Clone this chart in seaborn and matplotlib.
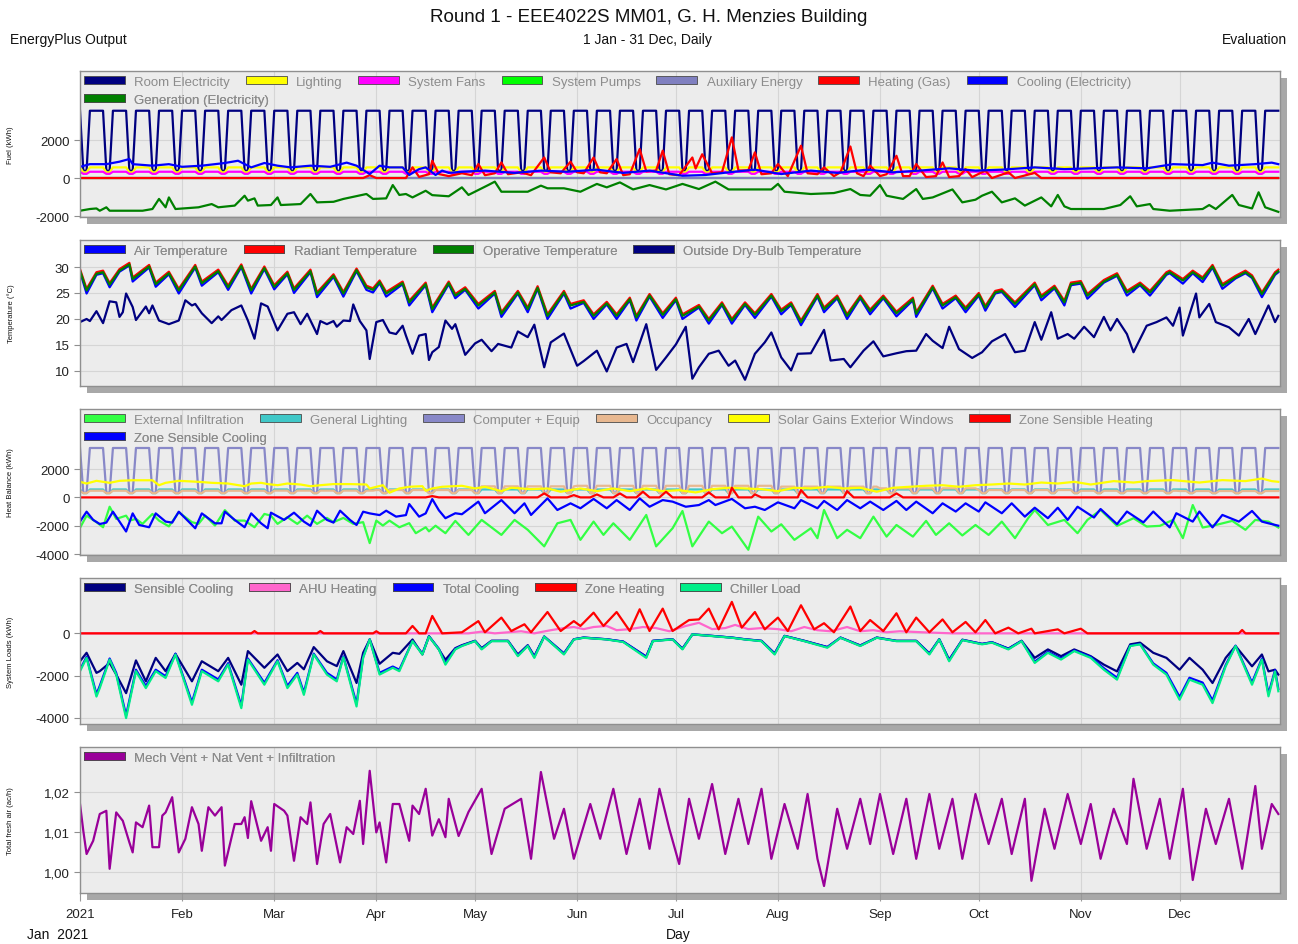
import matplotlib
matplotlib.use("Agg")
import matplotlib.dates as mdates
import matplotlib.patches as mpatches
import matplotlib.pyplot as plt
import matplotlib.ticker as mticker
import pandas as pd
import seaborn as sns

plt.rcParams["font.family"] = ["Liberation Sans", "DejaVu Sans"]
plt.rcParams["axes.unicode_minus"] = False

# ---------------------------------------------------------------- data
# schedule driven series: values per weekday, Mon..Sun
room_elec_week = [3540, 3540, 3540, 3540, 3540, 385, 385]
lighting_week = [560, 560, 560, 560, 560, 300, 300]
fans_week = [330, 330, 330, 330, 330, 220, 220]
pumps_week = [0, 0, 0, 0, 0, 0, 0]
aux_week = [0, 0, 0, 0, 0, 0, 0]
equip_week = [3490, 3490, 3490, 3490, 3490, 330, 330]
gen_light_week = [560, 560, 560, 560, 560, 300, 300]
occ_weekday_by_month = [470, 470, 480, 520, 780, 820, 820, 760, 640, 520, 470, 450]
occ_weekend = 300

# other series: values at the listed day of year (0 = 1 Jan)
gen_day = [0, 3, 5, 6, 8, 9, 14, 19, 22, 24, 26, 27, 29, 36, 40, 42, 47, 50, 51, 53,
           54, 58, 60, 61, 67, 70, 72, 77, 80, 87, 89, 93, 95, 97, 99, 101, 105, 107, 112, 116,
           118, 124, 126, 128, 136, 140, 142, 147, 152, 157, 160, 164, 168, 173, 178, 183, 188, 193, 197, 210,
           212, 214, 222, 229, 234, 237, 240, 243, 245, 250, 254, 256, 259, 265, 268, 272, 274, 277, 280, 284,
           287, 292, 295, 297, 299, 301, 311, 316, 319, 321, 325, 326, 331, 341, 343, 345, 350, 352, 356, 358,
           360, 364]
generation = [-1720, -1630, -1600, -1720, -1540, -1720, -1720, -1720, -1630, -1100, -1540, -1020, -1630, -1540, -1370, -1540, -1450, -930, -1190, -1070,
              -1450, -1420, -1020, -1420, -1370, -840, -1280, -1250, -1100, -840, -1100, -1070, -370, -890, -840, -1020, -670, -900, -960, -490,
              -890, -370, -190, -720, -720, -400, -540, -540, -720, -310, -490, -230, -600, -370, -600, -310, -580, -190, -600, -600,
              -310, -720, -840, -790, -580, -890, -930, -370, -930, -1100, -580, -1100, -1020, -600, -1280, -1140, -930, -720, -1280, -1070,
              -1450, -1020, -1490, -890, -1490, -1630, -1630, -1420, -960, -1490, -1370, -1630, -1720, -1630, -1420, -1630, -890, -1420, -1600, -750,
              -1540, -1780]

cool_day = [0, 3, 8, 12, 15, 16, 22, 27, 31, 37, 44, 48, 52, 56, 60, 64, 70, 76, 81, 84,
            88, 91, 94, 98, 100, 103, 105, 108, 110, 112, 116, 123, 132, 140, 148, 157, 165, 173, 183, 190,
            197, 205, 213, 222, 230, 239, 247, 255, 264, 272, 280, 290, 299, 307, 315, 324, 332, 341, 344, 349,
            357, 362, 364]
cooling_elec = [590, 730, 730, 860, 1000, 730, 650, 730, 590, 650, 790, 910, 560, 790, 650, 560, 650, 590, 810, 650,
                210, 650, 560, 560, 160, 470, 560, 160, 390, 270, 330, 390, 270, 390, 330, 440, 270, 390, 120, 160,
                300, 440, 210, 390, 270, 440, 300, 390, 510, 390, 440, 560, 470, 510, 560, 510, 730, 680, 810, 650,
                730, 810, 730]

heat_day = [0, 86, 88, 90, 99, 101, 103, 106, 107, 109, 112, 116, 119, 121, 123, 126, 128, 130, 134, 137,
            141, 143, 146, 149, 151, 153, 156, 158, 160, 163, 165, 167, 170, 172, 175, 177, 179, 182, 186, 187,
            189, 192, 195, 198, 200, 203, 205, 207, 210, 212, 215, 219, 221, 224, 226, 229, 231, 234, 236, 238,
            240, 243, 245, 248, 250, 252, 254, 257, 260, 262, 264, 267, 269, 271, 275, 277, 282, 284, 290, 292,
            364]
heating_gas = [0, 0, 150, 0, 0, 560, 60, 200, 910, 210, 100, 250, 150, 735, 150, 250, 820, 200, 300, 150,
               1080, 300, 250, 860, 300, 250, 1080, 300, 250, 1000, 150, 200, 1525, 350, 400, 1440, 200, 150, 1080, 500,
               1250, 250, 300, 2140, 400, 400, 1350, 200, 250, 735, 100, 1700, 250, 200, 560, 100, 300, 1660, 250, 100,
               650, 100, 200, 1170, 100, 100, 735, 50, 100, 820, 50, 100, 470, 50, 390, 0, 300, 0, 270, 0,
               0]

op_day = [0, 2, 5, 7, 9, 12, 15, 16, 21, 23, 27, 30, 35, 37, 42, 45, 49, 52, 56, 59,
          63, 65, 70, 72, 77, 80, 84, 87, 89, 91, 93, 98, 100, 105, 107, 112, 114, 117, 121, 126,
          128, 133, 136, 139, 142, 147, 149, 153, 156, 160, 163, 167, 169, 173, 177, 181, 183, 188, 191, 195,
          198, 202, 205, 210, 213, 216, 219, 224, 226, 230, 233, 237, 240, 244, 248, 253, 254, 259, 262, 266,
          269, 273, 275, 278, 280, 284, 290, 292, 296, 299, 301, 304, 306, 311, 315, 318, 322, 325, 330, 331,
          335, 338, 341, 344, 347, 351, 354, 356, 359, 363, 364]
operative_temp = [29.3, 25.5, 28.7, 29.0, 26.6, 29.3, 30.5, 27.7, 30.1, 26.7, 28.8, 25.5, 30.1, 26.9, 29.2, 26.1, 30.2, 25.5, 29.8, 26.2,
                  28.8, 25.6, 29.2, 24.8, 28.3, 24.9, 29.4, 26.1, 25.6, 27.1, 24.9, 26.9, 23.2, 26.7, 21.9, 26.9, 24.5, 25.8, 22.6, 25.1,
                  21.0, 25.1, 21.9, 26.0, 20.6, 25.1, 22.6, 23.3, 20.6, 23.0, 20.6, 23.8, 20.3, 24.5, 20.8, 23.8, 20.6, 22.4, 19.7, 22.9,
                  19.7, 22.9, 20.8, 24.5, 21.5, 22.9, 19.4, 24.5, 21.9, 24.2, 20.6, 24.2, 21.5, 24.2, 21.1, 23.8, 21.0, 26.1, 22.6, 24.2,
                  21.9, 24.7, 22.2, 25.1, 25.4, 22.9, 26.7, 24.2, 26.1, 23.2, 26.7, 27.0, 24.5, 27.2, 28.5, 25.1, 26.7, 25.1, 28.7, 29.0,
                  27.4, 29.0, 27.7, 30.1, 26.4, 28.0, 29.0, 28.1, 24.8, 28.7, 29.2]
air_temp = [29.1, 24.9, 28.5, 28.8, 26.1, 29.1, 30.3, 27.2, 29.9, 26.2, 28.6, 24.9, 29.9, 26.4, 29.0, 25.6, 30.0, 24.9, 29.6, 25.7,
            28.6, 25.0, 29.0, 24.2, 28.1, 24.3, 29.2, 25.6, 25.1, 26.9, 24.3, 26.7, 22.6, 26.5, 21.3, 26.7, 24.0, 25.6, 22.0, 24.9,
            20.4, 24.9, 21.3, 25.8, 20.0, 24.9, 22.0, 23.1, 20.0, 22.8, 20.0, 23.6, 19.7, 24.3, 20.2, 23.6, 20.0, 22.2, 19.1, 22.7,
            19.1, 22.7, 20.2, 24.3, 20.9, 22.7, 18.8, 24.3, 21.3, 24.0, 20.0, 24.0, 20.9, 24.0, 20.5, 23.6, 20.4, 25.9, 22.0, 24.0,
            21.3, 24.5, 21.6, 24.9, 25.2, 22.3, 26.5, 23.6, 25.9, 22.6, 26.5, 26.8, 23.9, 27.0, 28.3, 24.5, 26.5, 24.5, 28.5, 28.8,
            26.8, 28.8, 27.1, 29.9, 25.8, 27.8, 28.8, 27.9, 24.2, 28.5, 29.0]
radiant_temp = [29.6, 25.8, 29.0, 29.3, 26.9, 29.6, 30.8, 28.0, 30.4, 27.0, 29.1, 25.8, 30.4, 27.2, 29.5, 26.4, 30.5, 25.8, 30.1, 26.5,
                29.1, 25.9, 29.5, 25.1, 28.6, 25.2, 29.7, 26.4, 25.9, 27.4, 25.2, 27.2, 23.5, 27.0, 22.2, 27.2, 24.8, 26.1, 22.9, 25.4,
                21.3, 25.4, 22.2, 26.3, 20.9, 25.4, 22.9, 23.6, 20.9, 23.3, 20.9, 24.1, 20.6, 24.8, 21.1, 24.1, 20.9, 22.7, 20.0, 23.2,
                20.0, 23.2, 21.1, 24.8, 21.8, 23.2, 19.7, 24.8, 22.2, 24.5, 20.9, 24.5, 21.8, 24.5, 21.4, 24.1, 21.3, 26.4, 22.9, 24.5,
                22.2, 25.0, 22.5, 25.4, 25.7, 23.2, 27.0, 24.5, 26.4, 23.5, 27.0, 27.3, 24.8, 27.5, 28.8, 25.4, 27.0, 25.4, 29.0, 29.3,
                27.7, 29.3, 28.0, 30.4, 26.7, 28.3, 29.3, 28.4, 25.1, 29.0, 29.5]

out_day = [0, 2, 3, 5, 7, 9, 11, 12, 13, 14, 16, 17, 20, 21, 22, 24, 27, 30, 32, 34,
           35, 37, 40, 42, 43, 46, 49, 51, 53, 55, 57, 60, 63, 65, 67, 69, 72, 73, 75, 77,
           78, 80, 82, 83, 85, 87, 88, 90, 92, 94, 96, 98, 99, 101, 103, 105, 106, 107, 109, 111,
           113, 114, 117, 120, 122, 125, 127, 131, 133, 136, 138, 141, 143, 147, 151, 153, 157, 160, 163, 166,
           168, 172, 175, 178, 181, 184, 186, 188, 191, 194, 197, 199, 202, 205, 208, 210, 213, 216, 218, 222,
           226, 228, 232, 234, 238, 241, 244, 248, 251, 254, 257, 259, 262, 264, 267, 271, 274, 277, 281, 284,
           287, 290, 292, 295, 297, 300, 302, 305, 308, 311, 313, 315, 318, 320, 324, 327, 330, 332, 334, 335,
           339, 340, 343, 345, 349, 352, 355, 357, 361, 363, 364]
outside_temp = [19.4, 20.0, 19.6, 21.5, 19.2, 23.4, 23.2, 20.4, 21.3, 24.9, 22.3, 19.8, 22.4, 21.1, 22.6, 19.7, 19.0, 19.7, 23.6, 22.6,
                22.9, 21.1, 19.2, 20.5, 19.8, 21.7, 22.6, 19.7, 16.2, 23.0, 22.4, 17.8, 21.0, 21.3, 19.0, 21.0, 17.1, 19.6, 19.0, 19.6,
                18.5, 19.7, 19.6, 22.8, 19.6, 17.8, 12.3, 19.4, 19.8, 17.4, 17.1, 18.7, 16.8, 13.3, 16.8, 17.1, 12.1, 13.6, 14.6, 19.7,
                18.1, 19.0, 13.1, 15.3, 16.0, 13.8, 15.2, 14.5, 17.6, 16.5, 18.9, 10.7, 15.5, 17.2, 11.0, 11.9, 13.9, 9.9, 14.5, 15.2,
                11.7, 19.0, 10.2, 12.6, 15.1, 18.5, 8.5, 10.7, 13.3, 13.9, 11.0, 12.0, 8.3, 13.3, 15.5, 17.4, 12.6, 10.1, 13.3, 13.4,
                17.9, 12.0, 12.3, 10.7, 13.9, 15.7, 12.8, 13.4, 13.8, 13.9, 17.1, 15.8, 14.4, 18.5, 14.2, 12.5, 13.6, 15.7, 17.1, 13.6,
                13.9, 19.4, 16.0, 21.3, 16.2, 17.1, 16.2, 18.5, 16.5, 20.4, 17.8, 20.0, 17.1, 13.6, 18.7, 19.4, 20.3, 18.7, 22.2, 16.8,
                24.9, 20.3, 22.9, 19.4, 18.4, 16.8, 20.0, 17.1, 22.6, 19.4, 20.6]

sol_day = [0, 2, 5, 9, 12, 16, 22, 24, 26, 30, 36, 40, 45, 50, 52, 55, 57, 60, 63, 67,
           70, 73, 77, 82, 87, 88, 92, 94, 97, 100, 104, 105, 107, 110, 116, 120, 123, 128, 131, 137,
           142, 146, 152, 157, 162, 167, 172, 177, 182, 187, 192, 197, 202, 207, 212, 217, 222, 227, 232, 237,
           242, 247, 252, 257, 262, 267, 272, 277, 282, 287, 292, 297, 302, 307, 314, 320, 324, 332, 340, 347,
           354, 359, 362, 364]
solar_gains = [1100, 980, 1170, 1030, 1170, 1210, 1210, 860, 1030, 1170, 1100, 1030, 980, 790, 980, 1030, 940, 860, 980, 910,
               790, 860, 940, 940, 910, 630, 860, 330, 630, 750, 790, 470, 630, 750, 820, 630, 750, 440, 680, 580,
               630, 400, 630, 440, 630, 440, 630, 440, 510, 350, 580, 680, 630, 580, 440, 680, 630, 750, 630, 680,
               400, 680, 750, 820, 860, 750, 860, 910, 980, 910, 1050, 980, 1100, 910, 1150, 1050, 1150, 1220, 1050, 1220,
               1150, 1330, 1150, 1100]

zh3_day = [0, 105, 107, 109, 139, 141, 143, 148, 150, 152, 155, 157, 159, 162, 164, 166, 169, 171, 173, 176,
           178, 180, 189, 191, 193, 197, 198, 200, 204, 205, 207, 218, 219, 221, 232, 233, 235, 246, 248, 250,
           364]
zone_heating3 = [0, 0, 90, 0, 0, 280, 0, 0, 160, 0, 0, 210, 0, 0, 280, 0, 0, 400, 0, 0,
                 400, 0, 0, 350, 0, 0, 680, 0, 0, 210, 0, 0, 510, 0, 0, 440, 0, 0, 280, 0,
                 0]

zc_day = [0, 2, 4, 6, 8, 10, 12, 14, 16, 18, 21, 23, 26, 28, 30, 33, 35, 37, 41, 43,
          44, 47, 50, 52, 55, 57, 58, 62, 65, 68, 70, 72, 75, 77, 79, 82, 84, 86, 88, 91,
          93, 96, 99, 100, 103, 105, 107, 109, 111, 114, 116, 121, 123, 128, 132, 135, 137, 142, 145, 149,
          152, 156, 160, 163, 167, 170, 173, 177, 180, 184, 188, 191, 193, 198, 202, 205, 208, 212, 217, 219,
          224, 226, 230, 233, 237, 240, 244, 248, 251, 254, 259, 262, 266, 269, 273, 275, 280, 283, 287, 290,
          294, 297, 300, 303, 308, 310, 315, 318, 323, 326, 331, 333, 338, 340, 344, 347, 352, 356, 359, 361,
          364]
zone_cooling = [-1710, -1010, -1590, -1880, -1780, -1010, -1710, -2410, -1130, -1950, -2110, -1130, -1710, -1780, -1010, -1710, -2180, -1130, -1830, -1830,
                -1010, -1590, -2110, -1130, -1830, -2180, -1080, -1590, -1080, -1710, -2010, -940, -1590, -1780, -940, -1590, -1950, -1010, -1130, -1250,
                -940, -1360, -1250, -470, -1360, -1130, -120, -910, -1470, -1120, -1190, -300, -1120, -190, -1120, -420, -1240, -70, -890, -420,
                -770, -110, -770, -190, -890, -70, -660, -190, -300, -660, -540, -190, -540, -110, -770, -660, -890, -350, -770, -190,
                -770, -250, -890, -190, -770, -300, -890, -250, -890, -300, -1120, -420, -1000, -420, -1000, -350, -1120, -420, -1360, -730,
                -1470, -730, -1590, -660, -1420, -820, -1890, -1000, -1770, -1000, -2120, -1120, -1710, -1000, -2120, -1240, -1710, -960, -1710, -1830,
                -2000]

inf_day = [0, 2, 5, 7, 9, 11, 14, 15, 17, 19, 22, 24, 27, 30, 34, 36, 38, 41, 44, 47,
           50, 53, 56, 58, 60, 63, 66, 69, 72, 75, 77, 80, 83, 86, 88, 90, 92, 94, 97, 100,
           102, 105, 106, 108, 111, 114, 118, 122, 128, 132, 136, 141, 145, 149, 152, 156, 159, 162, 167, 172,
           175, 180, 183, 186, 191, 195, 198, 203, 206, 210, 213, 217, 222, 224, 226, 230, 233, 237, 241, 245,
           248, 253, 257, 260, 264, 268, 272, 276, 280, 284, 288, 290, 294, 299, 303, 306, 310, 315, 320, 324,
           328, 332, 335, 338, 341, 345, 350, 354, 357, 361, 364]
infiltration = [-2150, -1290, -1750, -2110, -660, -1520, -1290, -1640, -1520, -1870, -1170, -1640, -2050, -1050, -1750, -1870, -1290, -1990, -900, -1640,
                -1640, -2110, -1170, -1290, -1870, -1400, -1870, -1290, -1870, -1450, -1750, -1450, -1870, -1750, -3230, -1640, -1990, -1640, -2110, -1820,
                -2530, -2110, -2400, -2000, -2530, -1660, -2650, -1590, -2650, -1590, -2290, -3460, -1830, -1590, -3000, -1710, -2650, -1830, -3000, -1240,
                -3460, -2180, -960, -3460, -1710, -2530, -2060, -3700, -1360, -2410, -1900, -3000, -2180, -2880, -890, -2880, -2290, -2880, -1360, -2770,
                -1950, -2770, -1660, -2650, -1830, -2690, -1950, -2650, -1710, -2880, -1470, -890, -1950, -1590, -2530, -1590, -890, -2010, -1470, -2060,
                -2010, -1590, -2880, -540, -2130, -1950, -1660, -2290, -1590, -1710, -2130]

ch_day = [0, 2, 5, 6, 9, 11, 14, 17, 20, 23, 26, 29, 34, 37, 42, 45, 49, 51, 56, 60,
          63, 66, 68, 71, 75, 78, 80, 84, 86, 88, 91, 95, 97, 101, 104, 106, 109, 111, 114, 116,
          120, 122, 125, 130, 133, 136, 138, 141, 147, 150, 153, 160, 165, 172, 174, 180, 183, 186, 192, 198,
          202, 207, 211, 214, 220, 227, 231, 237, 242, 248, 254, 258, 261, 264, 268, 274, 277, 282, 286, 290,
          294, 298, 302, 307, 311, 315, 319, 322, 326, 330, 334, 337, 341, 344, 348, 351, 356, 359, 361, 363,
          364]
chiller_load = [-1790, -1160, -2990, -2590, -1240, -1950, -4010, -1790, -2590, -1790, -2110, -1000, -3380, -1790, -2270, -1470, -3540, -1240, -2430, -1320,
                -2590, -1950, -2910, -1000, -1950, -2270, -1130, -3460, -1160, -290, -1950, -1630, -1790, -370, -1000, -150, -760, -1480, -760, -600,
                -370, -760, -370, -370, -1080, -600, -1160, -160, -1000, -290, -210, -290, -410, -1160, -370, -290, -760, -50, -130, -210,
                -290, -370, -1000, -130, -370, -680, -210, -600, -210, -370, -370, -1000, -290, -1320, -320, -520, -440, -760, -370, -1400,
                -920, -1240, -840, -1160, -1720, -2190, -600, -520, -1480, -1950, -3140, -2190, -2430, -3300, -1560, -600, -2430, -1240, -2980, -1800,
                -2740]
sensible_cooling = [-1320, -920, -1870, -1790, -1400, -1950, -2830, -1280, -2270, -1160, -1790, -970, -2270, -1320, -1790, -1160, -2430, -840, -1630, -1000,
                    -1790, -1400, -1700, -650, -1320, -1550, -840, -2350, -920, -290, -1440, -920, -970, -290, -1000, -130, -760, -1250, -700, -560,
                    -350, -700, -350, -350, -1000, -560, -1080, -150, -950, -280, -200, -280, -390, -1100, -350, -280, -720, -50, -120, -200,
                    -280, -350, -950, -120, -350, -650, -200, -570, -200, -350, -350, -950, -280, -1250, -300, -500, -420, -720, -350, -1160,
                    -760, -1080, -760, -1080, -1480, -1800, -520, -440, -920, -1160, -1720, -1160, -1720, -2350, -1160, -600, -1560, -1000, -1800, -1720,
                    -1950]
total_cooling = [-1720, -1110, -2880, -2490, -1190, -1870, -3880, -1720, -2490, -1720, -2030, -960, -3260, -1720, -2180, -1410, -3420, -1190, -2340, -1270,
                 -2490, -1870, -2800, -960, -1870, -2180, -1090, -3330, -1110, -280, -1870, -1570, -1720, -360, -960, -140, -730, -1420, -730, -580,
                 -360, -730, -360, -360, -1040, -580, -1110, -150, -960, -280, -200, -280, -390, -1110, -360, -280, -730, -50, -120, -200,
                 -280, -360, -960, -120, -360, -650, -200, -580, -200, -360, -360, -960, -280, -1270, -310, -500, -420, -730, -360, -1340,
                 -880, -1190, -810, -1110, -1650, -2100, -580, -500, -1420, -1870, -3010, -2100, -2330, -3170, -1500, -580, -2330, -1190, -2860, -1730,
                 -2630]

zh4_day = [0, 52, 53, 54, 72, 73, 74, 89, 90, 91, 99, 101, 103, 105, 107, 110, 116, 121, 123, 128,
           131, 135, 137, 142, 146, 150, 152, 156, 159, 163, 167, 170, 173, 177, 180, 185, 188, 191, 194, 198,
           201, 205, 208, 212, 215, 219, 223, 226, 229, 234, 237, 240, 244, 248, 251, 254, 258, 262, 265, 269,
           272, 275, 278, 282, 285, 289, 290, 297, 299, 304, 306, 352, 353, 354, 364]
zone_heating4 = [0, 0, 110, 0, 0, 110, 0, 0, 100, 0, 0, 350, 0, 0, 825, 0, 50, 580, 50, 745,
                 110, 430, 50, 1010, 110, 580, 350, 980, 350, 1010, 110, 1140, 110, 1170, 110, 630, 660, 1170, 190, 1490,
                 270, 1010, 190, 745, 110, 1330, 190, 480, 50, 1270, 110, 630, 110, 950, 50, 745, 50, 660, 50, 540,
                 50, 630, 0, 270, 0, 220, 0, 190, 0, 220, 0, 0, 160, 0, 0]

ahu_day = [0, 118, 122, 126, 134, 138, 143, 147, 150, 153, 156, 160, 163, 167, 171, 175, 179, 184, 188, 192,
           196, 199, 203, 207, 212, 216, 220, 224, 228, 233, 237, 241, 245, 249, 256, 265, 364]
ahu_heating = [0, 0, 80, 0, 100, 0, 150, 250, 300, 200, 300, 350, 150, 200, 300, 250, 100, 350, 500, 200,
               250, 400, 200, 250, 200, 100, 300, 150, 100, 300, 100, 150, 50, 100, 50, 0, 0]

fa_day = [0, 1, 2, 4, 6, 8, 9, 11, 13, 15, 16, 17, 19, 21, 22, 24, 25, 26, 28, 30,
          32, 34, 36, 37, 39, 41, 43, 44, 47, 49, 50, 51, 52, 55, 57, 58, 59, 62, 63, 65,
          67, 69, 70, 72, 74, 76, 79, 81, 83, 85, 86, 88, 90, 91, 93, 95, 97, 100, 101, 103,
          105, 107, 109, 111, 112, 115, 118, 122, 125, 129, 134, 137, 140, 144, 147, 150, 155, 158, 162, 166,
          170, 173, 176, 179, 182, 185, 188, 192, 196, 200, 203, 207, 210, 214, 218, 221, 224, 226, 230, 233,
          237, 240, 243, 247, 251, 254, 258, 261, 265, 268, 272, 276, 280, 283, 287, 289, 293, 296, 300, 304,
          307, 310, 314, 318, 320, 324, 328, 331, 335, 338, 342, 345, 349, 353, 357, 359, 362, 364]
fresh_air = [1.0170, 1.0103, 1.0045, 1.0078, 1.0145, 1.0153, 1.0008, 1.0149, 1.0128, 1.0074, 1.0049, 1.0124, 1.0112, 1.0166, 1.0062, 1.0062, 1.0141, 1.0149, 1.0187, 1.0049,
             1.0083, 1.0162, 1.0120, 1.0053, 1.0162, 1.0141, 1.0162, 1.0016, 1.0120, 1.0120, 1.0137, 1.0085, 1.0177, 1.0078, 1.0112, 1.0053, 1.0170, 1.0153, 1.0141, 1.0028,
             1.0137, 1.0120, 1.0174, 1.0020, 1.0120, 1.0145, 1.0024, 1.0112, 1.0095, 1.0178, 1.0070, 1.0253, 1.0099, 1.0124, 1.0024, 1.0170, 1.0170, 1.0078, 1.0166, 1.0145,
             1.0208, 1.0091, 1.0132, 1.0087, 1.0183, 1.0090, 1.0150, 1.0208, 1.0045, 1.0158, 1.0183, 1.0033, 1.0250, 1.0083, 1.0158, 1.0033, 1.0170, 1.0083, 1.0208, 1.0045,
             1.0183, 1.0058, 1.0208, 1.0108, 1.0020, 1.0183, 1.0083, 1.0220, 1.0045, 1.0183, 1.0070, 1.0208, 1.0033, 1.0170, 1.0058, 1.0195, 1.0033, 0.9965, 1.0158, 1.0058,
             1.0183, 1.0070, 1.0195, 1.0045, 1.0183, 1.0033, 1.0195, 1.0058, 1.0183, 1.0033, 1.0195, 1.0070, 1.0183, 1.0045, 1.0183, 0.9978, 1.0158, 1.0058, 1.0195, 1.0070,
             1.0170, 1.0033, 1.0158, 1.0070, 1.0233, 1.0058, 1.0183, 1.0033, 1.0208, 0.9980, 1.0158, 1.0070, 1.0183, 1.0008, 1.0215, 1.0058, 1.0170, 1.0145]

month_labels = ["2021", "Feb", "Mar", "Apr", "May", "Jun", "Jul", "Aug", "Sep", "Oct", "Nov", "Dec"]

# ---------------------------------------------------------------- helpers
START = pd.Timestamp("2021-01-01")
all_days = pd.date_range("2021-01-01", "2021-12-31", freq="D")


def on_days(days):
    return START + pd.to_timedelta(days, unit="D")


def weekly(week_vals):
    return [week_vals[d.dayofweek] for d in all_days]


occupancy = [occ_weekday_by_month[d.month - 1] if d.dayofweek < 5 else occ_weekend for d in all_days]

W, H = 1298, 945
fig = plt.figure(figsize=(W / 100, H / 100), dpi=100)
fig.patch.set_facecolor("white")

LEFT, WIDTH, PH = 80, 1200, 146
GRID = "#d5d5d5"
LEG_TEXT = "#8c8c8c"


def make_panel(top, ylim, yticks, ylabel):
    rect = [LEFT / W, 1 - (top + PH) / H, WIDTH / W, PH / H]
    fig.add_artist(mpatches.Rectangle((rect[0] + 7 / W, rect[1] - 7 / H), rect[2], rect[3],
                                      transform=fig.transFigure, facecolor="#a8a8a8",
                                      edgecolor="none", zorder=-1))
    ax = fig.add_axes(rect)
    ax.set_facecolor("#ececec")
    for sp in ax.spines.values():
        sp.set_color("#8f8f8f")
        sp.set_linewidth(1.0)
    ax.set_xlim(pd.Timestamp("2021-01-01"), pd.Timestamp("2021-12-31 12:00"))
    ax.set_ylim(*ylim)
    ax.set_yticks(yticks)
    ax.xaxis.set_major_locator(mdates.MonthLocator())
    ax.grid(True, color=GRID, linewidth=0.8)
    ax.set_axisbelow(True)
    ax.tick_params(axis="y", labelsize=9.5, colors="#8f8f8f", labelcolor="#222222", length=4)
    ax.tick_params(axis="x", length=0, labelbottom=False)
    ax.set_xlabel("")
    ax.set_ylabel("")
    fig.text(11 / W, 1 - (top + PH / 2) / H, ylabel, rotation=90, ha="center", va="center",
             fontsize=5.5, color="#111111")
    return ax


def draw(ax, days, values, color, lw=1.6):
    sns.lineplot(x=days, y=values, ax=ax, color=color, linewidth=lw, legend=False,
                 errorbar=None, sort=False)


def add_legend(ax, rows):
    row_h = 18 / PH
    for i, row in enumerate(rows):
        handles = [mpatches.Patch(facecolor=c, edgecolor="#4a4a4a", linewidth=0.6) for _, c in row]
        leg = ax.legend(handles, [lab for lab, _ in row], loc="upper left",
                        bbox_to_anchor=(0.0, 1.0 - 1 / PH - i * row_h), ncol=len(row),
                        frameon=False, fontsize=9.5, handlelength=3.1, handleheight=0.55,
                        handletextpad=0.7, columnspacing=1.2, borderaxespad=0, borderpad=0.3)
        for t in leg.get_texts():
            t.set_color(LEG_TEXT)
        ax.add_artist(leg)


# ---------------------------------------------------------------- panel 1: fuel
ax1 = make_panel(72, (-2050, 5630), [-2000, 0, 2000], "Fuel (kWh)")
p1 = [
    ("Room Electricity", all_days, weekly(room_elec_week), "#000080"),
    ("Lighting", all_days, weekly(lighting_week), "#ffff00"),
    ("System Fans", all_days, weekly(fans_week), "#ff00ff"),
    ("System Pumps", all_days, weekly(pumps_week), "#00ff00"),
    ("Auxiliary Energy", all_days, weekly(aux_week), "#8080c0"),
    ("Heating (Gas)", on_days(heat_day), heating_gas, "#ff0000"),
    ("Cooling (Electricity)", on_days(cool_day), cooling_elec, "#0000ff"),
    ("Generation (Electricity)", on_days(gen_day), generation, "#008000"),
]
for lab, x, y, c in p1:
    draw(ax1, x, y, c)
add_legend(ax1, [[(s[0], s[3]) for s in p1[:7]], [(s[0], s[3]) for s in p1[7:]]])

# ---------------------------------------------------------------- panel 2: temperatures
ax2 = make_panel(241, (7.1, 35.2), [10, 15, 20, 25, 30], "Temperature (\u00b0C)")
p2 = [
    ("Air Temperature", on_days(op_day), air_temp, "#0000ff"),
    ("Radiant Temperature", on_days(op_day), radiant_temp, "#ff0000"),
    ("Operative Temperature", on_days(op_day), operative_temp, "#008000"),
    ("Outside Dry-Bulb Temperature", on_days(out_day), outside_temp, "#000080"),
]
for lab, x, y, c in p2:
    draw(ax2, x, y, c)
add_legend(ax2, [[(s[0], s[3]) for s in p2]])

# ---------------------------------------------------------------- panel 3: heat balance
ax3 = make_panel(410, (-4070, 6245), [-4000, -2000, 0, 2000], "Heat Balance (kWh)")
p3 = [
    ("External Infiltration", on_days(inf_day), infiltration, "#33ff44"),
    ("General Lighting", all_days, weekly(gen_light_week), "#40c8c8"),
    ("Computer + Equip", all_days, weekly(equip_week), "#8888c8"),
    ("Occupancy", all_days, occupancy, "#e8b890"),
    ("Solar Gains Exterior Windows", on_days(sol_day), solar_gains, "#ffff00"),
    ("Zone Sensible Heating", on_days(zh3_day), zone_heating3, "#ff0000"),
    ("Zone Sensible Cooling", on_days(zc_day), zone_cooling, "#0000ff"),
]
for lab, x, y, c in p3:
    draw(ax3, x, y, c)
add_legend(ax3, [[(s[0], s[3]) for s in p3[:6]], [(s[0], s[3]) for s in p3[6:]]])

# ---------------------------------------------------------------- panel 4: system loads
ax4 = make_panel(579, (-4290, 2620), [-4000, -2000, 0], "System Loads (kWh)")
p4 = [
    ("Sensible Cooling", on_days(ch_day), sensible_cooling, "#000080"),
    ("AHU Heating", on_days(ahu_day), ahu_heating, "#ff66cc"),
    ("Total Cooling", on_days(ch_day), total_cooling, "#0000ff"),
    ("Zone Heating", on_days(zh4_day), zone_heating4, "#ff0000"),
    ("Chiller Load", on_days(ch_day), chiller_load, "#00ee88"),
]
for lab, x, y, c in p4:
    draw(ax4, x, y, c)
add_legend(ax4, [[(s[0], s[3]) for s in p4]])

# ---------------------------------------------------------------- panel 5: fresh air
ax5 = make_panel(748, (0.99475, 1.03125), [1.00, 1.01, 1.02], "Total fresh air (ac/h)")
draw(ax5, on_days(fa_day), fresh_air, "#990099")
add_legend(ax5, [[("Mech Vent + Nat Vent + Infiltration", "#990099")]])
ax5.yaxis.set_major_formatter(mticker.FuncFormatter(lambda v, _: f"{v:.2f}".replace(".", ",")))
ax5.set_xticks(pd.date_range("2021-01-01", periods=12, freq="MS"))
ax5.set_xticklabels(month_labels)
ax5.tick_params(axis="x", length=6, colors="#999999", labelcolor="#222222", labelsize=9.5,
                labelbottom=True, pad=5)

# ---------------------------------------------------------------- header / footer text
fig.text(0.5, 1 - 17 / H, "Round 1 - EEE4022S MM01, G. H. Menzies Building", ha="center", va="center",
         fontsize=13.5, color="#111111")
fig.text(10 / W, 1 - 40 / H, "EnergyPlus Output", ha="left", va="center", fontsize=10, color="#111111")
fig.text(647 / W, 1 - 40 / H, "1 Jan - 31 Dec, Daily", ha="center", va="center", fontsize=10, color="#111111")
fig.text(1287 / W, 1 - 40 / H, "Evaluation", ha="right", va="center", fontsize=10, color="#111111")
fig.text(58 / W, 1 - 935 / H, "Jan  2021", ha="center", va="center", fontsize=10, color="#111111")
fig.text(678 / W, 1 - 935 / H, "Day", ha="center", va="center", fontsize=10, color="#111111")

fig.savefig("out.png", dpi=100)
